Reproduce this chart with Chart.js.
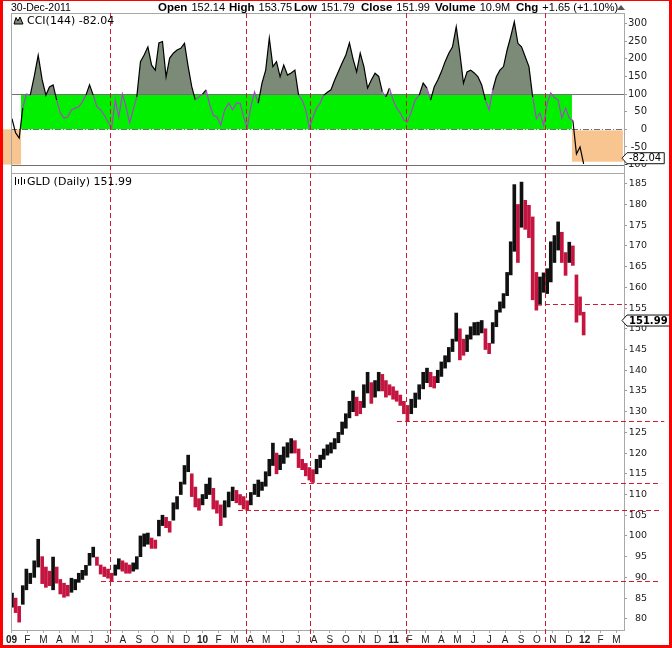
<!DOCTYPE html>
<html>
<head>
<meta charset="utf-8">
<script src="https://cdn.jsdelivr.net/npm/chart.js@4.4.1/dist/chart.umd.min.js"></script>
<style>
  html, body { margin: 0; padding: 0; background: #fff; }
  #wrap { width: 672px; height: 648px; }
</style>
</head>
<body>
<div id="wrap"><canvas id="gld" width="672" height="648"></canvas></div>
<script>
// GLD weekly range (Fridays, 2 Jan 2009 .. 30 Dec 2011)
const weekHigh = [
  86.2, 85.0, 83.0, 88.0, 92.0, 91.0, 94.0, 99.2, 95.0, 92.5, 91.5, 94.9, 92.5, 89.5, 88.6, 88.1,
  89.8, 89.5, 91.0, 91.7, 92.9, 95.8, 97.3, 94.9, 93.0, 92.5, 92.0, 91.0, 93.0, 94.5, 94.0, 93.5,
  93.0, 93.5, 95.0, 100.0, 100.5, 100.7, 99.5, 99.0, 103.8, 105.0, 104.5, 103.5, 108.0, 109.5, 113.0, 117.0,
  119.5, 115.0, 111.8, 109.0, 110.0, 112.5, 114.0, 111.5, 108.5, 107.5, 108.5, 110.6, 111.8, 111.0, 110.0, 109.5,
  108.5, 110.5, 112.5, 113.5, 113.0, 115.5, 118.5, 122.4, 120.0, 119.5, 121.5, 122.5, 123.5, 123.0, 121.0, 118.5,
  117.5, 116.5, 116.0, 118.5, 119.5, 121.0, 122.0, 122.5, 123.5, 125.0, 127.5, 129.5, 132.5, 135.0, 133.5, 132.5,
  136.5, 139.5, 137.0, 137.5, 139.5, 139.0, 137.5, 136.5, 136.0, 135.0, 134.0, 132.5, 131.5, 133.0, 134.5, 136.5,
  139.5, 140.5, 139.5, 138.5, 140.0, 142.0, 143.5, 145.5, 147.5, 153.8, 150.0, 147.5, 148.5, 150.5, 151.5, 151.6,
  152.0, 150.0, 146.5, 151.5, 154.5, 156.5, 158.5, 163.6, 171.0, 184.8, 180.0, 185.4, 181.0, 179.8, 177.0, 163.6,
  162.5, 163.5, 164.5, 171.0, 172.5, 175.8, 173.3, 168.4, 170.9, 170.0, 163.0, 157.7, 154.0
];
const weekLow = [
  82.8, 81.5, 79.2, 83.5, 87.0, 88.5, 90.0, 92.5, 88.5, 87.6, 88.0, 87.0, 88.6, 86.0, 85.2, 85.5,
  86.4, 87.0, 88.8, 89.5, 90.5, 92.9, 94.9, 92.9, 90.8, 90.2, 89.8, 89.1, 90.5, 92.0, 91.5, 91.0,
  91.0, 91.5, 92.0, 95.0, 97.5, 98.0, 97.0, 97.0, 100.0, 102.5, 102.0, 100.9, 103.8, 106.5, 110.0, 112.5,
  115.5, 109.5, 107.0, 106.2, 107.5, 109.0, 110.0, 106.5, 105.5, 102.5, 104.5, 107.0, 108.5, 108.0, 107.5, 106.5,
  106.2, 107.5, 110.0, 109.5, 111.0, 112.0, 114.5, 117.0, 115.0, 116.0, 117.5, 119.0, 120.0, 120.0, 116.5, 116.0,
  114.5, 113.5, 112.9, 115.0, 116.5, 118.5, 119.5, 120.0, 121.0, 122.5, 124.5, 126.0, 128.5, 130.0, 129.0, 129.5,
  131.0, 134.5, 132.0, 133.5, 135.0, 135.0, 133.5, 134.0, 133.0, 132.5, 131.5, 129.5, 127.8, 129.5, 131.0, 133.0,
  135.5, 137.0, 136.0, 135.7, 137.0, 138.5, 140.5, 142.0, 144.5, 147.0, 142.5, 143.6, 144.5, 147.5, 148.5, 148.5,
  149.0, 145.0, 144.0, 146.5, 150.5, 154.0, 155.0, 158.0, 163.0, 168.7, 166.0, 174.5, 174.0, 172.0, 157.0, 154.5,
  155.7, 158.8, 158.5, 161.3, 166.0, 169.0, 166.0, 162.9, 166.0, 165.3, 151.6, 153.3, 148.5
];
// CCI(144), same weeks
const cciValues = [
  30, -10, -25, 60, 100, 97, 150, 210, 140, 97, 120, 126, 83, 46, 32, 35,
  55, 60, 64, 78, 97, 126, 97, 64, 55, 40, 20, 4, 83, 35, 100, 64,
  18, 55, 92, 192, 211, 234, 182, 168, 245, 249, 149, 202, 216, 225, 230, 244,
  178, 121, 83, 92, 100, 112, 69, 40, 35, 12, 55, 74, 55, 74, 74, 35,
  4, 64, 106, 74, 131, 168, 259, 178, 192, 149, 182, 154, 160, 168, 97, 83,
  55, 4, 35, 60, 74, 97, 105, 112, 140, 164, 188, 211, 245, 200, 163, 216,
  178, 117, 140, 159, 150, 106, 92, 117, 83, 60, 46, 26, 21, 49, 83, 97,
  131, 117, 83, 120, 140, 163, 192, 216, 234, 291, 216, 131, 163, 168, 160, 149,
  126, 83, 55, 112, 149, 168, 178, 225, 263, 305, 244, 234, 206, 178, 92, 30,
  46, 12, 74, 103, 90, 83, 32, 60, 32, 25, -70, -50, -98
];
const monthLabels = [
  '09', 'F', 'M', 'A', 'M', 'J', 'J', 'A', 'S', 'O', 'N', 'D',
  '10', 'F', 'M', 'A', 'M', 'J', 'J', 'A', 'S', 'O', 'N', 'D',
  '11', 'F', 'M', 'A', 'M', 'J', 'J', 'A', 'S', 'O', 'N', 'D',
  '12', 'F', 'M'
];
const cciTicks = [-100, -50, 0, 50, 100, 150, 200, 250, 300];
const priceTicks = [80, 85, 90, 95, 100, 105, 110, 115, 120, 125, 130, 135, 140, 145, 150, 155, 160, 165, 170, 175, 180, 185];
const lastCci = -82.04;
const lastClose = 151.99;

// hand-drawn marks on the original (x in months since Jan 2009)
const turnMonths = [6.2, 14.73, 18.72, 24.78, 33.49];
const supportPrice = [89.1, 106.2, 112.9, 127.8, 156.1];
const supportStart = [5.62, 14.23, 18.18, 24.21, 33.0];
const supportEnd = [40.8, 40.8, 40.8, 41.0, 38.65];
const greenZone = { from: 0.6, to: 35.2, top: 100, bottom: 0 };
const orangeZones = [
  { from: -0.7, to: 0.6, top: 0, bottom: -100 },
  { from: 35.2, to: 38.4, top: -3, bottom: -92 }
];

const quoteNames = ['Open', 'High', 'Low', 'Close', 'Volume', 'Chg'];
const quoteValues = ['152.14', '153.75', '151.79', '151.99', '10.9M', '+1.65 (+1.10%)'];
const quoteX = [158, 229, 294, 361, 435, 516];

// week dates -> months since Jan 2009
const weekX = weekHigh.map((_, i) => {
  const d = new Date(Date.UTC(2009, 0, 2) + i * 7 * 86400000);
  const dim = new Date(Date.UTC(d.getUTCFullYear(), d.getUTCMonth() + 1, 0)).getUTCDate();
  return (d.getUTCFullYear() - 2009) * 12 + d.getUTCMonth() + (d.getUTCDate() - 1) / dim;
});

const mids = weekHigh.map((h, i) => (h + weekLow[i]) / 2);
const barColors = mids.map((m, i) => (i > 0 && m < mids[i - 1]) ? '#c4143f' : '#111111');

const RED = '#cc1a30';
const SANS = "'Liberation Sans', Arial, sans-serif";
const VERA = "'DejaVu Sans', Verdana, sans-serif";

function hline(ctx, x0, x1, y) {
  ctx.beginPath(); ctx.moveTo(x0, y); ctx.lineTo(x1, y); ctx.stroke();
}
function vline(ctx, x, y0, y1) {
  ctx.beginPath(); ctx.moveTo(x, y0); ctx.lineTo(x, y1); ctx.stroke();
}
function valueTag(ctx, text, y, bold) {
  ctx.font = (bold ? 'bold ' : '') + '10px ' + VERA;
  const w = ctx.measureText(text).width + 5;
  const x0 = 627, tip = 622, h = 5.5;
  ctx.beginPath();
  ctx.moveTo(tip, y);
  ctx.lineTo(x0, y - h);
  ctx.lineTo(x0 + w, y - h);
  ctx.lineTo(x0 + w, y + h);
  ctx.lineTo(x0, y + h);
  ctx.closePath();
  ctx.fillStyle = '#fff';
  ctx.fill();
  ctx.strokeStyle = '#111';
  ctx.lineWidth = 1;
  ctx.stroke();
  ctx.fillStyle = '#000';
  ctx.textBaseline = 'middle';
  ctx.textAlign = 'left';
  ctx.fillText(text, x0 + 2, y + 0.5);
}

const marks = {
  id: 'marks',
  beforeDatasetsDraw(chart) {
    const { ctx, chartArea: a, scales: { x, yCCI } } = chart;
    const px = v => x.getPixelForValue(v);
    const py = v => yCCI.getPixelForValue(v);
    ctx.save();
    ctx.fillStyle = '#00f000';
    ctx.fillRect(px(greenZone.from), py(greenZone.top), px(greenZone.to) - px(greenZone.from), py(greenZone.bottom) - py(greenZone.top));
    ctx.fillStyle = '#f8c590';
    orangeZones.forEach(z => {
      ctx.fillRect(px(z.from), py(z.top), px(z.to) - px(z.from), py(z.bottom) - py(z.top));
    });
    ctx.strokeStyle = '#707070';
    ctx.lineWidth = 1;
    [100, -100].forEach(v => hline(ctx, a.left, a.right, Math.round(py(v)) + 0.5));
    ctx.setLineDash([6, 2, 1, 2]);
    hline(ctx, a.left, a.right, Math.round(py(0)) + 0.5);
    ctx.restore();
  },
  afterDatasetsDraw(chart) {
    const { ctx, chartArea: a, scales: { x, yCCI, yPrice } } = chart;
    ctx.save();
    // panel frames
    ctx.strokeStyle = '#a8a8a8';
    ctx.lineWidth = 1;
    ctx.strokeRect(a.left + 0.5, a.top + 0.5, a.right - a.left, a.bottom - a.top);
    hline(ctx, a.left, a.right, Math.round(yCCI.bottom) + 0.5);
    // red dashed marks
    ctx.strokeStyle = RED;
    ctx.setLineDash([5, 3]);
    turnMonths.forEach(m => vline(ctx, Math.round(x.getPixelForValue(m)) + 0.5, a.top, 648));
    supportPrice.forEach((p, i) => {
      hline(ctx, x.getPixelForValue(supportStart[i]), x.getPixelForValue(supportEnd[i]), Math.round(yPrice.getPixelForValue(p)) + 0.5);
    });
    ctx.restore();
  },
  afterDraw(chart) {
    const { ctx, scales: { yCCI, yPrice } } = chart;
    ctx.save();
    ctx.textBaseline = 'alphabetic';
    ctx.textAlign = 'left';
    ctx.fillStyle = '#000';
    // header line
    ctx.font = '10.5px ' + SANS;
    ctx.fillText('30-Dec-2011', 11, 11);
    quoteNames.forEach((n, i) => {
      ctx.font = 'bold 11.5px ' + SANS;
      ctx.fillText(n, quoteX[i], 11);
      const w = ctx.measureText(n).width;
      ctx.font = '11px ' + SANS;
      ctx.fillText(quoteValues[i], quoteX[i] + w + 4, 11);
    });
    ctx.fillStyle = '#555';
    ctx.beginPath();
    ctx.moveTo(617, 10); ctx.lineTo(625, 10); ctx.lineTo(621, 5); ctx.closePath();
    ctx.fill();

    // panel titles with small icons
    ctx.fillStyle = '#7b8b77';
    ctx.strokeStyle = '#000';
    ctx.lineWidth = 1;
    ctx.beginPath();
    ctx.moveTo(14, 24); ctx.lineTo(16, 17.5); ctx.lineTo(18, 21); ctx.lineTo(20, 17); ctx.lineTo(23, 24);
    ctx.closePath();
    ctx.fill(); ctx.stroke();
    ctx.fillStyle = '#000';
    ctx.font = '11px ' + VERA;
    ctx.fillText('CCI(144) ' + lastCci.toFixed(2), 27, 24);
    [15, 18, 21, 24].forEach((bx, i) => vline(ctx, bx + 0.5, 177 + (i % 2) * 2, 185 - (i % 2)));
    ctx.fillText('GLD (Daily) ' + lastClose.toFixed(2), 27, 185);

    // last value tags on the right axis
    valueTag(ctx, lastCci.toFixed(2), yCCI.getPixelForValue(lastCci), false);
    valueTag(ctx, lastClose.toFixed(2), yPrice.getPixelForValue(lastClose), true);

    // red frame
    ctx.fillStyle = '#ff0000';
    ctx.fillRect(0, 0, 3, 648);
    ctx.fillRect(669, 0, 3, 648);
    ctx.fillRect(0, 645, 672, 3);
    ctx.fillRect(0, 0, 672, 1);
    ctx.restore();
  }
};

const inGreen = (x, y) => y >= 0 && y <= 100 && x >= greenZone.from && x <= greenZone.to;

// right-hand axes: labels are right-aligned on the far edge of the axis box
const sideAxis = (ticks, fontSize) => ({
  type: 'linear',
  position: 'right',
  stack: 'panels',
  beginAtZero: false,
  afterBuildTicks: s => { s.ticks = ticks.map(v => ({ value: v })); },
  afterFit: s => { s.width = 23; },
  grid: { drawOnChartArea: false, drawTicks: true, tickLength: 3, color: '#999' },
  border: { display: false },
  ticks: {
    autoSkip: false,
    crossAlign: 'far',
    padding: 2,
    color: '#222',
    font: { family: VERA, size: fontSize },
    callback: v => String(v)
  }
});

const yCCI = Object.assign(sideAxis(cciTicks, 10), { min: -124, max: 330, stackWeight: 160 });
const yPrice = Object.assign(sideAxis(priceTicks, 9.5), { min: 77.3, max: 187.6, stackWeight: 457 });

new Chart(document.getElementById('gld'), {
  type: 'line',
  data: {
    datasets: [
      {
        type: 'line',
        label: 'CCI(144)',
        yAxisID: 'yCCI',
        data: weekX.map((x, i) => ({ x, y: cciValues[i] })),
        borderColor: '#000',
        borderWidth: 1.2,
        pointRadius: 0,
        tension: 0,
        fill: { target: { value: 100 }, above: '#7b8b77', below: 'rgba(0,0,0,0)' },
        segment: {
          borderColor: c => {
            const xm = (c.p0.parsed.x + c.p1.parsed.x) / 2;
            const ym = (c.p0.parsed.y + c.p1.parsed.y) / 2;
            return inGreen(xm, ym) ? '#a844c8' : '#000';
          }
        }
      },
      {
        type: 'bar',
        label: 'GLD',
        yAxisID: 'yPrice',
        data: weekX.map((x, i) => ({ x, y: [weekLow[i], weekHigh[i]] })),
        backgroundColor: barColors,
        borderWidth: 0,
        barThickness: 3
      }
    ]
  },
  options: {
    responsive: false,
    animation: false,
    layout: { padding: { left: 11, top: 13, right: 25, bottom: 0 } },
    plugins: { legend: { display: false }, tooltip: { enabled: false } },
    scales: {
      yCCI,
      yPrice,
      x: {
        type: 'linear',
        min: -0.03,
        max: 38.47,
        offset: false,
        afterBuildTicks: s => { s.ticks = monthLabels.map((_, i) => ({ value: i })); },
        afterFit: s => { s.height = 18; },
        grid: { offset: false, drawOnChartArea: false, drawTicks: true, tickLength: 3, color: '#aaa' },
        border: { display: false },
        ticks: {
          autoSkip: false,
          maxRotation: 0,
          minRotation: 0,
          padding: 1,
          color: '#222',
          font: c => ({ family: SANS, size: 10, weight: (monthLabels[c.index] || '').length > 1 ? 'bold' : 'normal' }),
          callback: (v, i) => monthLabels[i]
        }
      }
    }
  },
  plugins: [marks]
});
</script>
</body>
</html>
